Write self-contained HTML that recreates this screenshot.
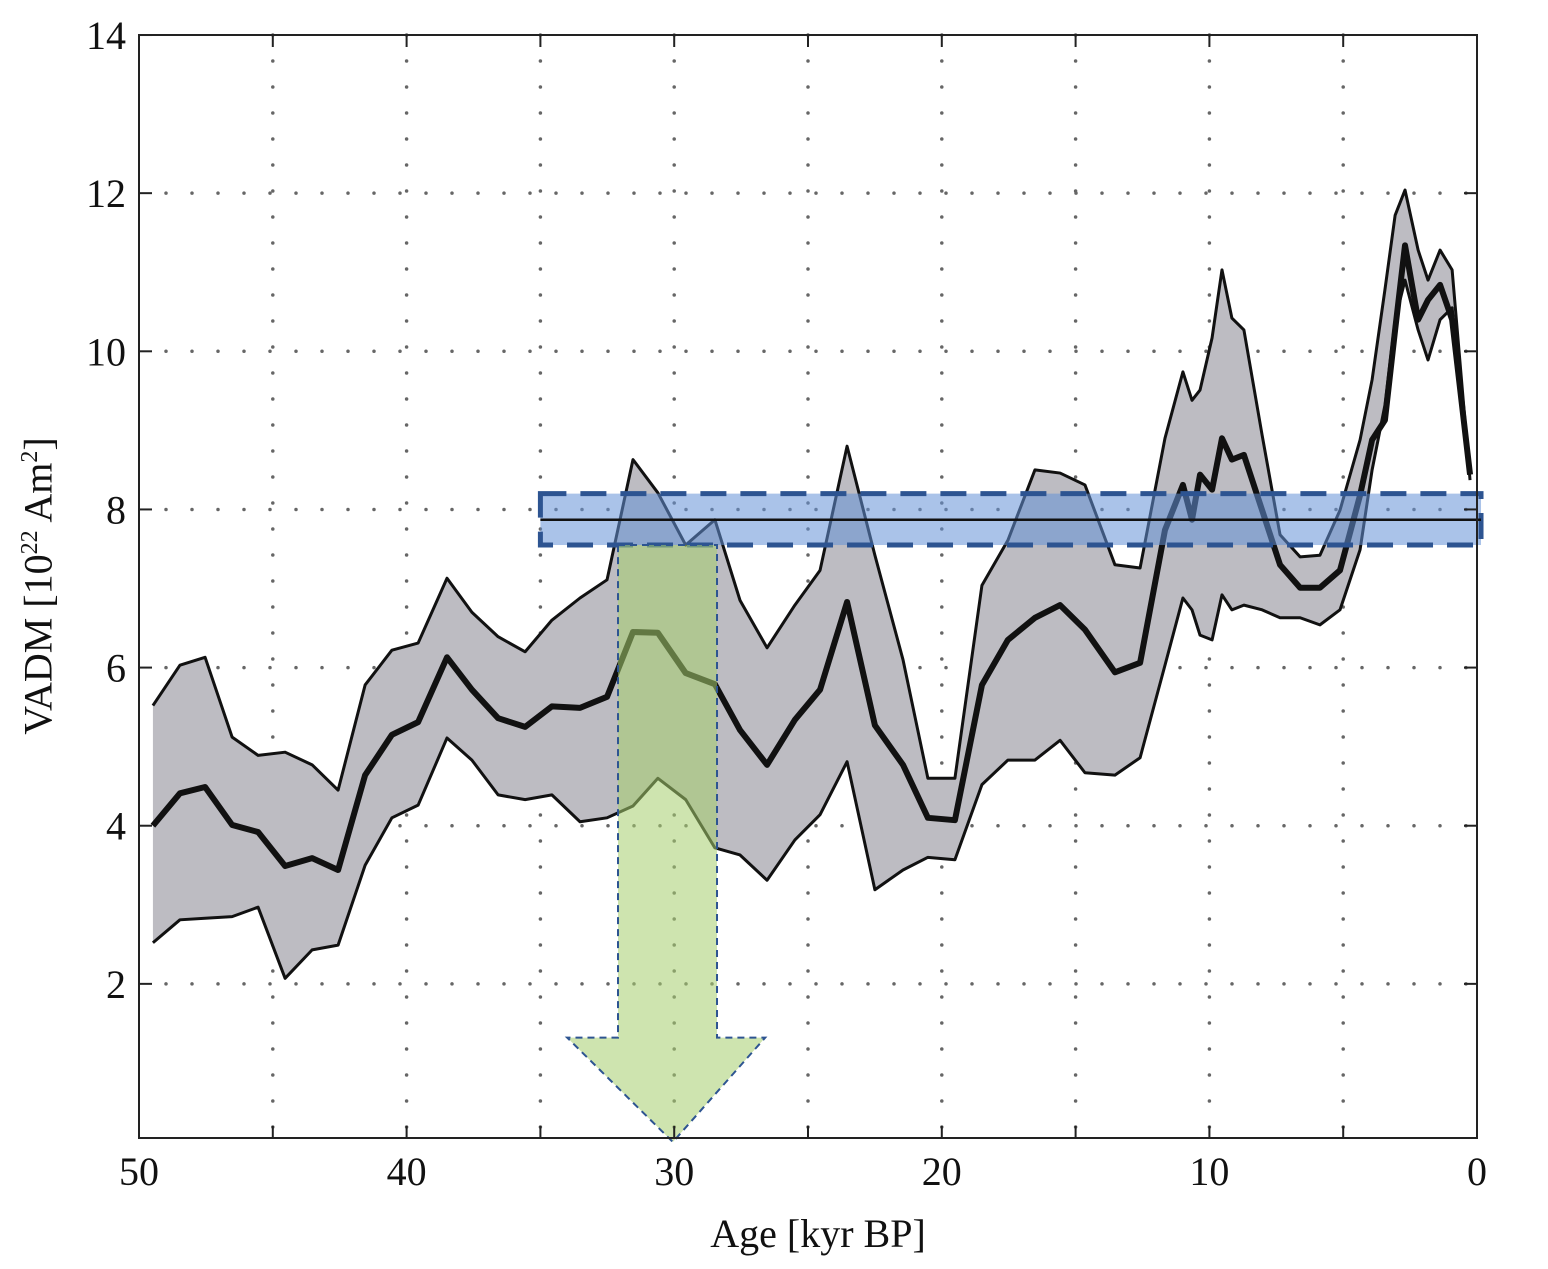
<!DOCTYPE html>
<html><head><meta charset="utf-8"><style>
html,body{margin:0;padding:0;background:#fff}
svg{display:block;font-family:"Liberation Serif",serif}
</style></head><body>
<svg id="chart" width="1548" height="1269" viewBox="0 0 1548 1269"></svg>
<script>
const ages=[49.48,48.47,47.53,46.52,45.55,44.54,43.53,42.56,41.55,40.55,39.57,38.49,37.56,36.58,35.57,34.57,33.52,32.51,31.54,30.61,29.57,28.48,27.54,26.53,25.49,24.55,23.54,22.50,21.45,20.52,19.51,18.50,17.53,16.52,15.58,14.65,13.53,12.59,11.66,10.99,10.65,10.35,9.90,9.53,9.16,8.71,8.03,7.36,6.61,5.87,5.12,4.37,3.92,3.44,3.06,2.69,2.20,1.83,1.38,0.93,0.26];
const upper=[5.52,6.03,6.13,5.12,4.89,4.93,4.77,4.45,5.78,6.22,6.31,7.13,6.70,6.39,6.20,6.60,6.88,7.11,8.63,8.21,7.55,7.87,6.85,6.25,6.79,7.23,8.80,7.42,6.10,4.60,4.60,7.04,7.61,8.50,8.46,8.31,7.30,7.26,8.90,9.74,9.38,9.51,10.17,11.03,10.42,10.27,8.94,7.68,7.40,7.42,7.99,8.88,9.64,10.78,11.72,12.04,11.28,10.90,11.28,11.03,8.37];
const mean=[4.00,4.41,4.49,4.01,3.92,3.49,3.59,3.44,4.64,5.15,5.31,6.13,5.72,5.36,5.25,5.51,5.49,5.63,6.45,6.44,5.93,5.79,5.21,4.77,5.34,5.72,6.83,5.27,4.77,4.10,4.07,5.78,6.35,6.63,6.79,6.48,5.94,6.06,7.74,8.31,7.87,8.44,8.25,8.90,8.63,8.69,7.99,7.30,7.01,7.01,7.23,8.18,8.88,9.13,10.27,11.34,10.40,10.65,10.84,10.40,8.44];
const lower=[2.52,2.81,2.83,2.85,2.97,2.07,2.43,2.49,3.50,4.10,4.26,5.11,4.83,4.39,4.33,4.39,4.05,4.10,4.25,4.60,4.33,3.72,3.63,3.31,3.82,4.14,4.81,3.19,3.44,3.60,3.57,4.52,4.83,4.83,5.08,4.67,4.64,4.86,6.03,6.88,6.73,6.41,6.35,6.92,6.73,6.79,6.73,6.63,6.63,6.54,6.73,7.49,8.50,9.32,10.40,10.90,10.27,9.89,10.40,10.55,8.44];
const xTicks=[50,40,30,20,10,0];
const yTicks=[2,4,6,8,10,12,14];
const band=[7.55,7.87,8.2];
const bandAge=[35,-0.15];
const arrowShaft=[32.1,28.4,7.55,1.32];
const arrowHead=[34.0,26.6,30.05,0];

const X=a=>1477-a*26.76;
const Y=v=>1142-v*79.07;
const svg=document.getElementById('chart');
const NS='http://www.w3.org/2000/svg';
function mk(t,a,p){const e=document.createElementNS(NS,t);for(const k in a)e.setAttribute(k,a[k]);(p||svg).appendChild(e);return e;}

for(let a=5;a<50;a+=5){const l=mk('line',{x1:X(a),x2:X(a),y1:35,y2:1138,stroke:'#666','stroke-width':3.5,'stroke-dasharray':'0 26','stroke-linecap':'round'});

}
for(const v of yTicks.slice(0,-1)){const l=mk('line',{x1:166,x2:1477,y1:Y(v),y2:Y(v),stroke:'#666','stroke-width':3.5,'stroke-dasharray':'0 26','stroke-linecap':'round'});

}

const pts=(arr)=>arr.map((v,i)=>X(ages[i])+','+Y(v));
const bandPts=pts(upper).concat(pts(lower).reverse()).join(' ');
const bp=mk('polygon',{points:bandPts,fill:'#bdbcc2',stroke:'none'});


const ul=mk('polyline',{points:pts(upper).join(' '),fill:'none',stroke:'#111','stroke-width':3,'stroke-linejoin':'round'});


const ll=mk('polyline',{points:pts(lower).join(' '),fill:'none',stroke:'#111','stroke-width':3,'stroke-linejoin':'round'});


const ml=mk('polyline',{points:pts(mean).join(' '),fill:'none',stroke:'#111','stroke-width':6,'stroke-linejoin':'round'});



const br=mk('rect',{x:X(bandAge[0]),y:Y(band[2]),width:X(bandAge[1])-X(bandAge[0]),height:Y(band[0])-Y(band[2]),fill:'rgba(100,145,215,0.55)',stroke:'#2d5491','stroke-width':5,'stroke-dasharray':'26 14'});


const bl=mk('line',{x1:X(bandAge[0]),x2:X(bandAge[1]),y1:Y(band[1]),y2:Y(band[1]),stroke:'#111','stroke-width':2.5});



const ap=[[X(arrowShaft[0]),Y(arrowShaft[2])],[X(arrowShaft[1]),Y(arrowShaft[2])],[X(arrowShaft[1]),Y(arrowShaft[3])],[X(arrowHead[1]),Y(arrowShaft[3])],[X(arrowHead[2]),Y(arrowHead[3])],[X(arrowHead[0]),Y(arrowShaft[3])],[X(arrowShaft[0]),Y(arrowShaft[3])]].map(p=>p.join(',')).join(' ');
const ar=mk('polygon',{points:ap,fill:'rgba(165,205,110,0.55)',stroke:'#2d5491','stroke-width':2,'stroke-dasharray':'7 5'});



const fr=mk('rect',{x:139,y:35,width:1338,height:1103,fill:'none',stroke:'#222','stroke-width':2});



for(let a=0;a<=50;a+=5){mk('line',{x1:X(a),x2:X(a),y1:1138,y2:1126,stroke:'#222','stroke-width':2});mk('line',{x1:X(a),x2:X(a),y1:35,y2:47,stroke:'#222','stroke-width':2});}
for(const v of yTicks){mk('line',{x1:139,x2:152,y1:Y(v),y2:Y(v),stroke:'#222','stroke-width':2});mk('line',{x1:1464,x2:1477,y1:Y(v),y2:Y(v),stroke:'#222','stroke-width':2});}
for(const a of xTicks){const t=mk('text',{x:X(a),y:1185,'font-size':40,'text-anchor':'middle',fill:'#111'});t.textContent=a;

}
for(const v of yTicks){const t=mk('text',{x:126,y:Y(v)+14,'font-size':40,'text-anchor':'end',fill:'#111'});t.textContent=v;

}
</script>
<div style="position:absolute;left:0;width:1636px;top:1210px;text-align:center;font:40px 'Liberation Serif',serif;color:#111">Age [kyr BP]</div>
<div style="position:absolute;left:38px;top:586px;transform:translate(-50%,-50%) rotate(-90deg);white-space:nowrap;font:40px 'Liberation Serif',serif;color:#111">VADM [10<sup style="font-size:24px">22</sup> Am<sup style="font-size:24px">2</sup>]</div>
</body></html>
